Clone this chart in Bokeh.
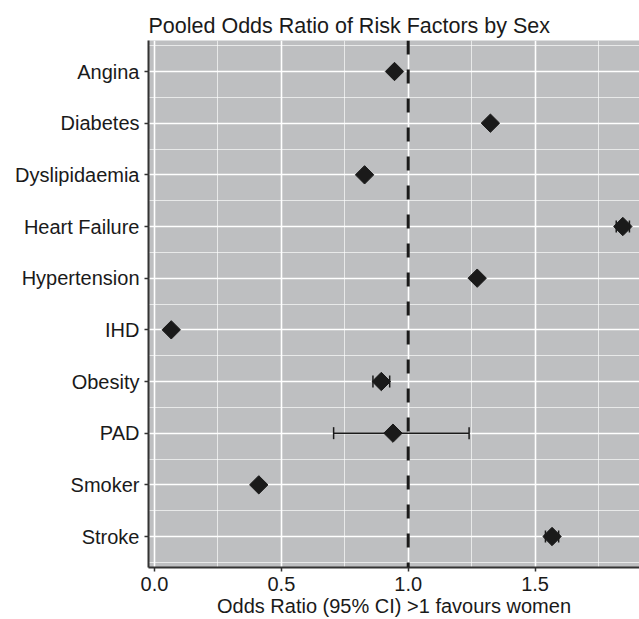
from bokeh.plotting import figure
from bokeh.models import (ColumnDataSource, FixedTicker, Range1d, Span, Whisker,
                          TeeHead)
from bokeh.embed import file_html
from bokeh.resources import INLINE
import numpy as np

# Pooled odds ratios with 95% confidence limits, one row per risk factor
factors = ["Angina", "Diabetes", "Dyslipidaemia", "Heart Failure", "Hypertension",
           "IHD", "Obesity", "PAD", "Smoker", "Stroke"]
odds_ratio = [0.946, 1.324, 0.828, 1.846, 1.272, 0.066, 0.894, 0.940, 0.411, 1.567]
ci_lower = [0.938, 1.316, 0.820, 1.820, 1.264, 0.058, 0.861, 0.706, 0.403, 1.541]
ci_upper = [0.954, 1.332, 0.836, 1.872, 1.280, 0.074, 0.927, 1.240, 0.419, 1.593]

x_ticks = [0.0, 0.5, 1.0, 1.5]
x_minor = [0.25, 0.75, 1.25, 1.75]
null_value = 1.0

n = len(factors)
ypos = [n - i for i in range(n)]          # first factor at the top
y_minor = [y + 0.5 for y in range(0, n + 1)]

src = ColumnDataSource(dict(factor=factors, y=ypos, est=odds_ratio,
                            lo=ci_lower, hi=ci_upper))

FONT = "Liberation Sans"
INK = "#1a1a1a"
PANEL = "#bebfc1"

p = figure(width=639, height=619, output_backend="svg", toolbar_location=None,
           x_range=Range1d(-0.0237, 1.9117), y_range=Range1d(0.4, n + 0.6),
           min_border_left=148, min_border_right=0, min_border_top=40,
           min_border_bottom=51)

p.background_fill_color = PANEL
p.border_fill_color = "white"
p.outline_line_color = None

p.title.text = "Pooled Odds Ratio of Risk Factors by Sex"
p.title.text_font = FONT
p.title.text_font_size = "21.5px"
p.title.text_font_style = "normal"
p.title.text_color = INK
p.title.align = "left"
p.title.offset = 0
p.title.standoff = 6

# axes
p.xaxis.ticker = FixedTicker(ticks=x_ticks, minor_ticks=x_minor)
p.yaxis.ticker = FixedTicker(ticks=ypos, minor_ticks=y_minor)
p.yaxis.major_label_overrides = {y: f for y, f in zip(ypos, factors)}
p.xaxis.major_label_overrides = {t: f"{t:.1f}" for t in x_ticks}
p.xaxis.axis_label = "Odds Ratio (95% CI) >1 favours women"

for ax in (p.xaxis, p.yaxis):
    ax.axis_line_color = "#333333"
    ax.axis_line_width = 2
    ax.major_tick_line_color = "#333333"
    ax.major_tick_line_width = 1.5
    ax.major_tick_out = 4
    ax.major_tick_in = 0
    ax.minor_tick_line_color = None
    ax.major_label_text_font = FONT
    ax.major_label_text_font_size = "20px"
    ax.major_label_text_color = INK
    ax.axis_label_text_font = FONT
    ax.axis_label_text_font_size = "20px"
    ax.axis_label_text_font_style = "normal"
    ax.axis_label_text_color = INK

p.yaxis.major_label_standoff = 5
p.xaxis.major_label_standoff = 5
p.xaxis.axis_label_standoff = 1

# white grid, lighter minor lines between the major ones
for g in (p.xgrid, p.ygrid):
    g.grid_line_color = "white"
    g.grid_line_width = 1.6
    g.minor_grid_line_color = "white"
    g.minor_grid_line_alpha = 0.65
    g.minor_grid_line_width = 1.0

# reference line at no difference
p.add_layout(Span(location=null_value, dimension="height", line_color=INK,
                  line_width=3, line_dash="14 15"))

# confidence intervals
whisk = Whisker(source=src, base="y", lower="lo", upper="hi", dimension="width",
                line_color=INK, line_width=1.5,
                lower_head=TeeHead(size=12, line_color=INK, line_width=1.5),
                upper_head=TeeHead(size=12, line_color=INK, line_width=1.5))
p.add_layout(whisk)

# point estimates as diamonds
p.scatter("est", "y", source=src, marker="square", size=13, angle=np.pi / 4,
          fill_color=INK, line_color=INK, line_width=1)

open("out.html", "w").write(file_html(p, INLINE))
